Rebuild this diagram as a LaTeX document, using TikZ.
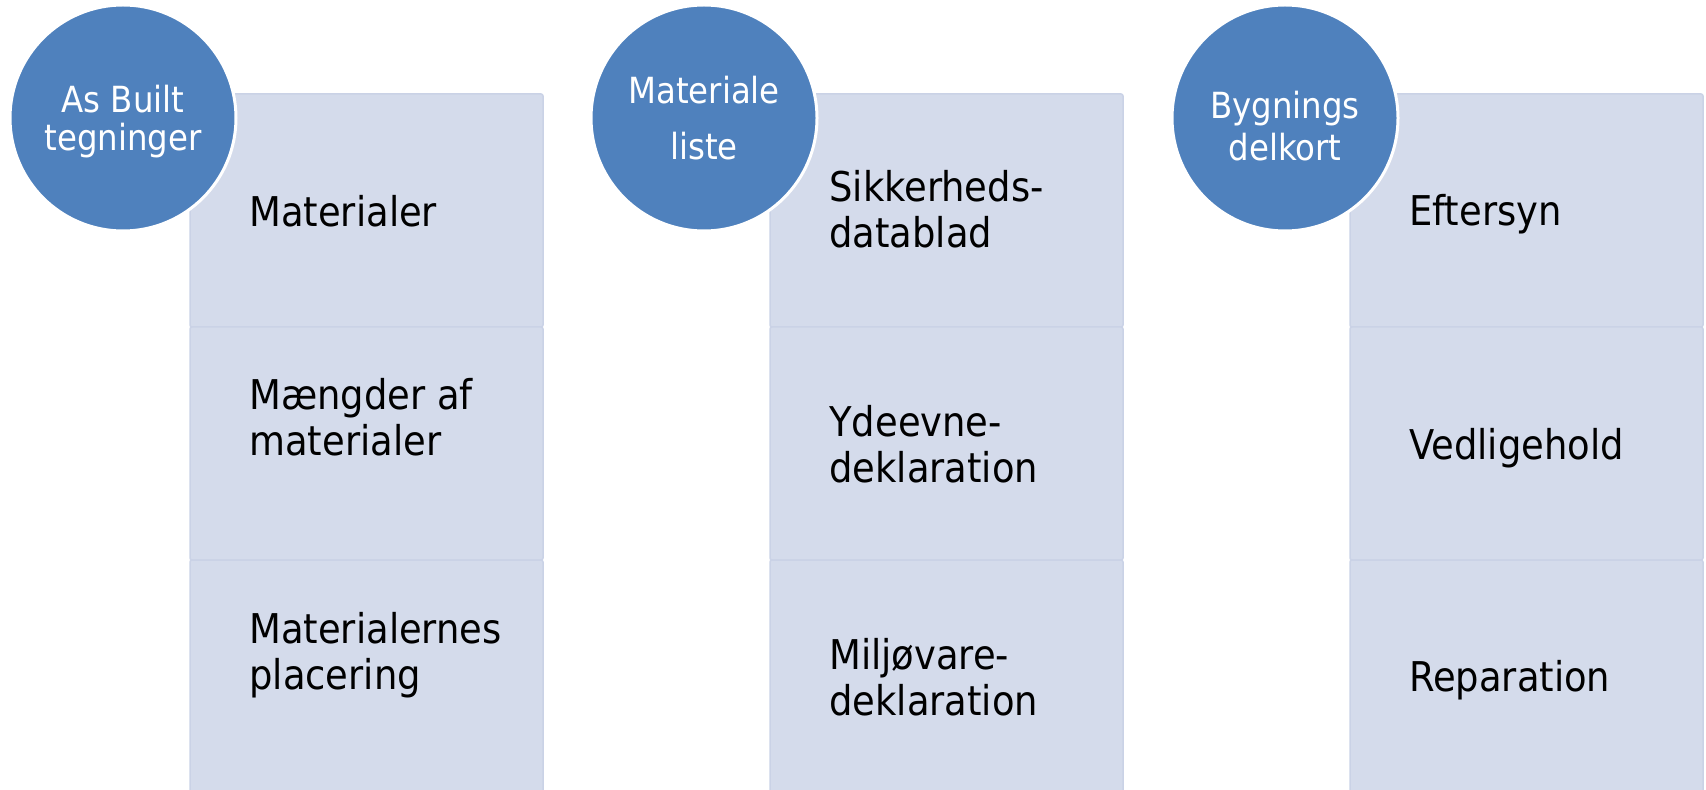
\documentclass[tikz,border=0pt]{standalone}
\usepackage{fontspec}
\setmainfont{DejaVu Sans Condensed}
\usetikzlibrary{positioning}

\definecolor{kugleblaa}{HTML}{4F81BD}
\definecolor{feltfyld}{HTML}{D4DBEB}
\definecolor{feltkant}{HTML}{CAD2E6}

\begin{document}
\begin{tikzpicture}[x=0.5pt, y=-0.5pt,
	felt/.style={rectangle, draw=feltkant, fill=feltfyld, line width=0.75pt, rounded corners=1pt, minimum width=176.5pt, minimum height=116.5pt, inner sep=0pt, outer sep=0pt},
	punkt/.style={anchor=base west, align=left, inner sep=0pt, font=\fontsize{20.5pt}{23pt}\selectfont},
	kugle/.style={circle, fill=kugleblaa, draw=white, line width=1.5pt, minimum size=113pt, inner sep=0pt},
	kugletekst/.style={align=center, inner sep=0pt, text=white}]
	\useasboundingbox (0,0) rectangle (1706,790);

	% Kolonne 1: As Built tegninger
	\node[felt, anchor=north west] (f11) at (190,94) {};
	\node[felt, below=0pt of f11] (f12) {};
	\node[felt, below=0pt of f12] (f13) {};
	\node[punkt] (t11) at (249,227) {Materialer};
	\node[punkt] (t12) at (249,456) {Mængder af\\materialer};
	\node[punkt] (t13) at (249,689) {Materialernes\\placering};

	% Kolonne 2: Materiale liste
	\node[felt, anchor=north west] (f21) at (770,94) {};
	\node[felt, below=0pt of f21] (f22) {};
	\node[felt, below=0pt of f22] (f23) {};
	\node[punkt] (t21) at (829,248) {Sikkerheds-\\datablad};
	\node[punkt] (t22) at (829,482) {Ydeevne-\\deklaration};
	\node[punkt] (t23) at (829,715) {Miljøvare-\\deklaration};

	% Kolonne 3: Bygningsdelkort
	\node[felt, anchor=north west] (f31) at (1350,94) {};
	\node[felt, below=0pt of f31] (f32) {};
	\node[felt, below=0pt of f32] (f33) {};
	\node[punkt] (t31) at (1409,226) {Eftersyn};
	\node[punkt] (t32) at (1409,459) {Vedligehold};
	\node[punkt] (t33) at (1409,691) {Reparation};

	% Cirklerne oven på kolonnerne
	\node[kugle] (k1) at (123,118) {};
	\node[kugle] (k2) at (704,118) {};
	\node[kugle] (k3) at (1285,118) {};
	\node[kugletekst, font=\fontsize{18pt}{19pt}\selectfont] (h1) at (123,122) {As Built\\tegninger};
	\node[kugletekst, font=\fontsize{18pt}{28pt}\selectfont] (h2) at (k2) {Materiale\\liste};
	\node[kugletekst, font=\fontsize{18pt}{21pt}\selectfont] (h3) at (1285,126) {Bygnings\\delkort};
\end{tikzpicture}
\end{document}
